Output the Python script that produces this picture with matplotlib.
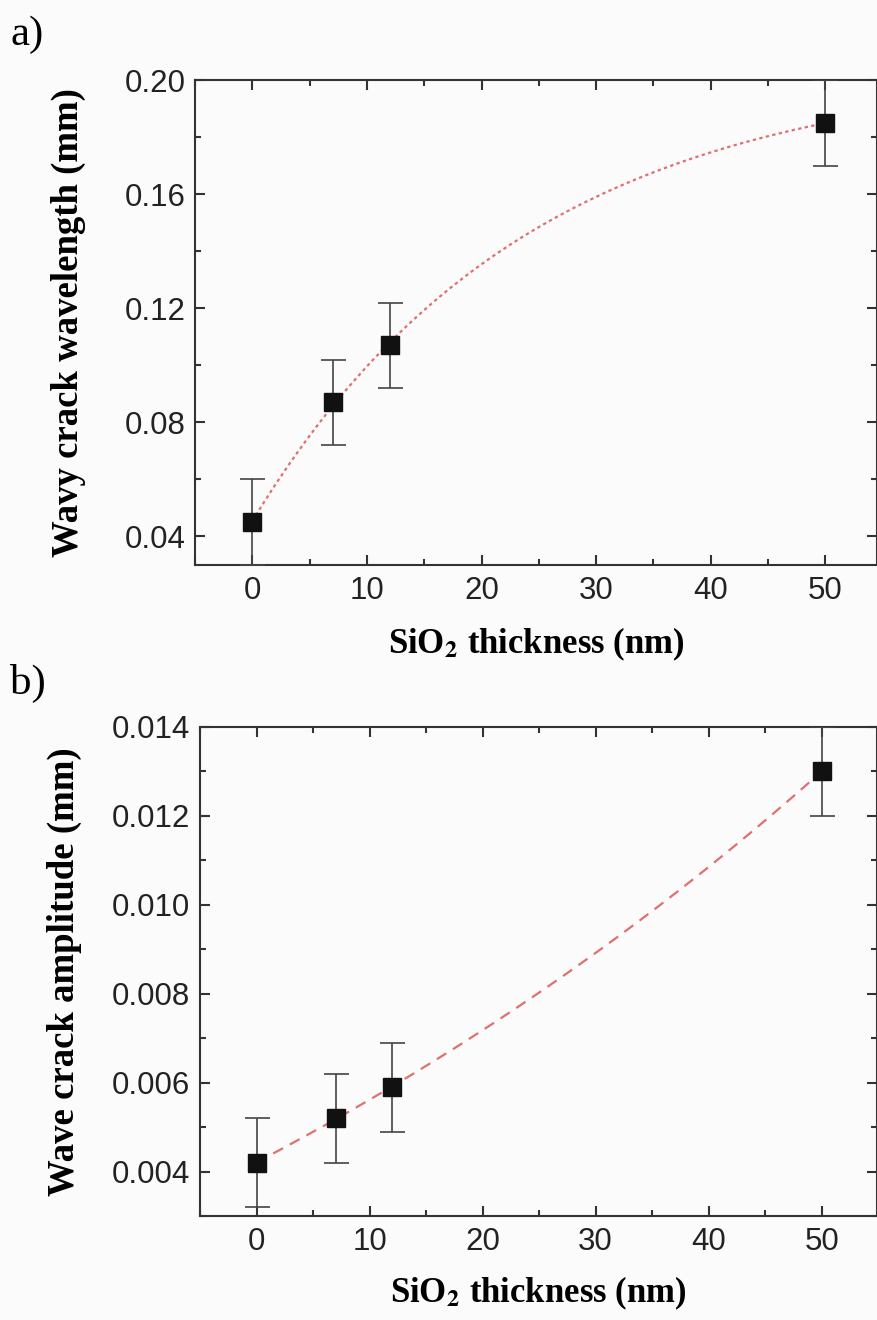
import numpy as np
import matplotlib
matplotlib.use("Agg")
import matplotlib.pyplot as plt
from matplotlib.ticker import MultipleLocator, FormatStrFormatter

# ---- data ----
thickness = [0, 7, 12, 50]
wavelength = [0.045, 0.087, 0.107, 0.185]
wavelength_err = [0.015, 0.015, 0.015, 0.015]
amplitude = [0.0042, 0.0052, 0.0059, 0.0130]
amplitude_err = [0.001, 0.001, 0.001, 0.001]

xlabel = r"SiO$_{\mathbf{2}}$ thickness (nm)"
ylabel_a = "Wavy crack wavelength (mm)"
ylabel_b = "Wave crack amplitude (mm)"


def exp_fit(x, y, sign):
    """Least squares fit y = y0 + A*exp(sign*x/t), grid search on t."""
    x = np.asarray(x, float); y = np.asarray(y, float)
    best = None
    for t in np.linspace(2, 300, 3000):
        basis = np.exp(sign * x / t)
        M = np.vstack([np.ones_like(x), basis]).T
        coef, res, *_ = np.linalg.lstsq(M, y, rcond=None)
        r = np.sum((M @ coef - y) ** 2)
        if best is None or r < best[0]:
            best = (r, t, coef)
    _, t, coef = best
    return lambda xx: coef[0] + coef[1] * np.exp(sign * np.asarray(xx) / t)


plt.rcParams['font.family'] = ['Liberation Sans', 'DejaVu Sans']
plt.rcParams['mathtext.fontset'] = 'stix'

W, H = 878, 1320
fig = plt.figure(figsize=(W / 100, H / 100), dpi=100)
fig.patch.set_facecolor('#fbfbfb')

spine_c = '#333333'
serif = ['Liberation Serif', 'DejaVu Serif']


def style(ax):
    ax.set_facecolor('#fbfbfb')
    for s in ax.spines.values():
        s.set_color(spine_c)
        s.set_linewidth(1.5)
    ax.tick_params(which='both', direction='in', top=True, right=True,
                   color=spine_c, labelsize=22.5, labelcolor='#222222')
    ax.tick_params(which='major', length=7, width=1.5)
    ax.tick_params(which='minor', length=4, width=1.5)
    ax.tick_params(axis='x', pad=8)
    ax.tick_params(axis='y', pad=7)
    ax.xaxis.set_major_locator(MultipleLocator(10))
    ax.xaxis.set_minor_locator(MultipleLocator(5))


# panel a
ax1 = fig.add_axes([195 / W, 1 - 565 / H, (877 - 195) / W, (565 - 80) / H])
style(ax1)
fa = exp_fit(thickness, wavelength, -1)
xx = np.linspace(0, 50, 300)
ax1.plot(xx, fa(xx), ls=(0, (1.5, 1.5)), color='#e07070', lw=1.6, zorder=2)
ax1.errorbar(thickness, wavelength, yerr=wavelength_err, fmt='s', color='#111111',
             ms=13.5, ecolor='#444444', elinewidth=1.2, capsize=9, capthick=1.2, zorder=3)
ax1.set_xlim(-5, 54.5)
ax1.set_ylim(0.03, 0.20)
ax1.yaxis.set_minor_locator(MultipleLocator(0.02))
ax1.set_yticks([0.04, 0.08, 0.12, 0.16, 0.20])
ax1.yaxis.set_major_formatter(FormatStrFormatter('%.2f'))
ax1.set_xlabel(xlabel, family=serif, fontweight='bold', fontsize=25)
ax1.set_ylabel(ylabel_a, family=serif, fontweight='bold', fontsize=26.5)
ax1.xaxis.set_label_coords(0.5, -0.125)
ax1.yaxis.set_label_coords(-0.16, 0.5)

# panel b
ax2 = fig.add_axes([200 / W, 1 - 1216 / H, (877 - 200) / W, (1216 - 727) / H])
style(ax2)
fb = exp_fit(thickness, amplitude, 1)
ax2.plot(xx, fb(xx), ls=(0, (5, 3.5)), color='#e07070', lw=1.6, zorder=2)
ax2.errorbar(thickness, amplitude, yerr=amplitude_err, fmt='s', color='#111111',
             ms=13.5, ecolor='#444444', elinewidth=1.2, capsize=9, capthick=1.2, zorder=3)
ax2.set_xlim(-5, 54.9)
ax2.set_ylim(0.003, 0.014)
ax2.set_yticks([0.004, 0.006, 0.008, 0.010, 0.012, 0.014])
ax2.yaxis.set_minor_locator(MultipleLocator(0.001))
ax2.yaxis.set_major_formatter(FormatStrFormatter('%.3f'))
ax2.set_xlabel(xlabel, family=serif, fontweight='bold', fontsize=25)
ax2.set_ylabel(ylabel_b, family=serif, fontweight='bold', fontsize=26.5)
ax2.xaxis.set_label_coords(0.5, -0.12)
ax2.yaxis.set_label_coords(-0.175, 0.5)

fig.text(10 / W, 1 - 16 / H, "a)", family=serif, fontsize=31, va='top', ha='left')
fig.text(10 / W, 1 - 664 / H, "b)", family=serif, fontsize=31, va='top', ha='left')

fig.savefig('out.png', dpi=100, facecolor=fig.get_facecolor())
